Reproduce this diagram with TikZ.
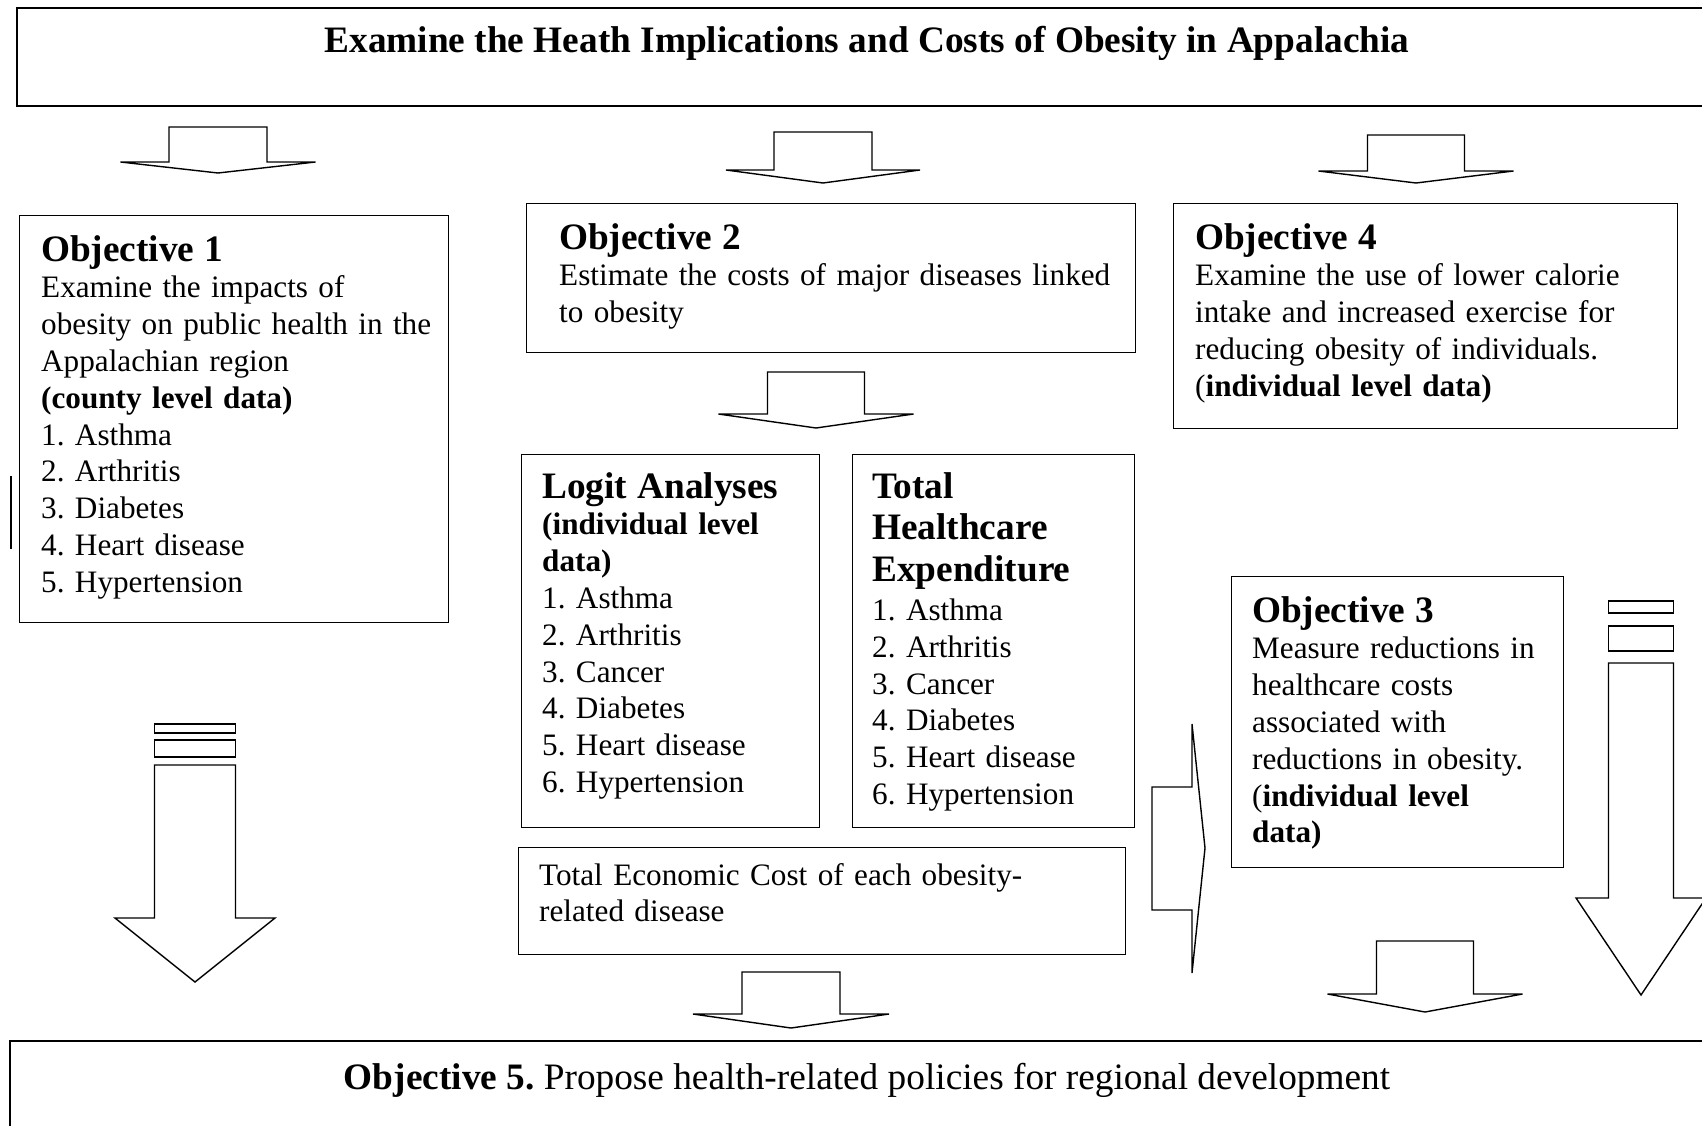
\documentclass[tikz,border=0pt]{standalone}
\usepackage{fontspec}
\setmainfont{Liberation Serif}
\frenchspacing
\begin{document}
\begin{tikzpicture}[x=1pt,y=-1pt,
  frame/.style={draw=black, line width=1.4pt, rectangle, inner sep=0pt},
  body/.style={anchor=base west, inner sep=0pt, align=left,
    font=\fontsize{31.2}{36.8}\selectfont},
  blockarrow/.style={draw=black, line width=1.4pt, fill=white, line join=miter}]
\newcommand\hd[1]{{\fontsize{37.3}{36.8}\selectfont\bfseries #1}}
% down-pointing block arrow: centre x, shaft half width, head half width, top, head base, tip
\newcommand\dnarrow[6]{%
  \draw[blockarrow] ({#1-#2},#4) -- ({#1-#2},#5) -- ({#1-#3},#5) -- (#1,#6)
    -- ({#1+#3},#5) -- ({#1+#2},#5) -- ({#1+#2},#4) -- cycle;}
\useasboundingbox (0,0) rectangle (1702,1125);
\clip (0,0) rectangle (1702,1125);

% boxes
\draw[frame] (17,8) rectangle (1712,106);
\node[frame, anchor=north west, minimum width=429pt, minimum height=407pt] (obj1) at (19,215) {};
\node[frame, anchor=north west, minimum width=609pt, minimum height=149pt] (obj2) at (526,203) {};
\node[frame, anchor=north west, minimum width=504pt, minimum height=225pt] (obj4) at (1173,203) {};
\node[frame, anchor=north west, minimum width=298pt, minimum height=373pt] (logit) at (521,454) {};
\node[frame, anchor=north west, minimum width=282pt, minimum height=373pt] (thc) at (852,454) {};
\node[frame, anchor=north west, minimum width=607pt, minimum height=107pt] (tec) at (518,847) {};
\node[frame, anchor=north west, minimum width=332pt, minimum height=291pt] (obj3) at (1231,576) {};
\draw[frame] (10,1041) rectangle (1712,1135);

% texts
\node[anchor=base, inner sep=0pt, font=\fontsize{37.3}{40}\selectfont\bfseries] (title) at (867,52)
  {Examine the Heath Implications and Costs of Obesity in Appalachia};

\node[body, text width=400pt] (t1) at (41,261)
  {\hd{Objective 1}\\
   Examine the impacts of\\
   obesity on public health in the\\
   Appalachian region\\
   \textbf{(county level data)}\\
   1. Asthma\\
   2. Arthritis\\
   3. Diabetes\\
   4. Heart disease\\
   5. Hypertension};

\node[body, text width=570pt] (t2) at (559,249)
  {\hd{Objective 2}\\
   Estimate the costs of major diseases linked\\
   to obesity};

\node[body, text width=475pt] (t4) at (1195,249)
  {\hd{Objective 4}\\
   Examine the use of lower calorie\\
   intake and increased exercise for\\
   reducing obesity of individuals.\\
   (\textbf{individual level data)}};

\node[body, text width=270pt] (tl) at (542,498)
  {\hd{Logit Analyses}\\
   \textbf{(individual level}\\
   \textbf{data)}\\
   1. Asthma\\
   2. Arthritis\\
   3. Cancer\\
   4. Diabetes\\
   5. Heart disease\\
   6. Hypertension};

\node[body, text width=255pt] (th) at (872,498)
  {\hd{Total}\\[5pt]
   \hd{Healthcare}\\[5pt]
   \hd{Expenditure}\\[2pt]
   1. Asthma\\
   2. Arthritis\\
   3. Cancer\\
   4. Diabetes\\
   5. Heart disease\\
   6. Hypertension};

\node[body, text width=580pt] (te) at (539,885)
  {Total Economic Cost of each obesity-\\
   related disease};

\node[body, text width=305pt] (t3) at (1252,622)
  {\hd{Objective 3}\\
   Measure reductions in\\
   healthcare costs\\
   associated with\\
   reductions in obesity.\\
   (\textbf{individual level}\\
   \textbf{data)}};

\node[anchor=base, inner sep=0pt, font=\fontsize{37.3}{40}\selectfont] (t5) at (867,1089)
  {\textbf{Objective 5.} Propose health-related policies for regional development};

% block arrows
\dnarrow{218}{49}{97.5}{127}{162}{173}
\dnarrow{823}{49}{97}{132}{170}{183}
\dnarrow{1416}{48.5}{97.5}{135}{171}{183}
\dnarrow{816}{48.5}{97.5}{372}{414}{428}
\dnarrow{791}{49}{98}{972}{1014}{1028}
\dnarrow{1425}{48.5}{97.5}{941}{994}{1012}

% striped arrow under objective 1
\draw[blockarrow] (154.5,724) rectangle (235.5,733);
\draw[blockarrow] (154.5,740) rectangle (235.5,757);
\dnarrow{195}{40.5}{80}{765}{918}{982}

% striped arrow at the right edge
\draw[blockarrow] (1608.5,601) rectangle (1673.5,613);
\draw[blockarrow] (1608.5,626) rectangle (1673.5,651);
\dnarrow{1641}{32.5}{65}{663}{898}{995}

% right-pointing arrow towards objective 3
\draw[blockarrow] (1192,787) -- (1152,787) -- (1152,910) -- (1192,910)
  -- (1192,973) -- (1205,848) -- (1192,724) -- cycle;

% short rule at the left margin
\draw[line width=1.6pt] (11,476) -- (11,549);
\end{tikzpicture}
\end{document}
